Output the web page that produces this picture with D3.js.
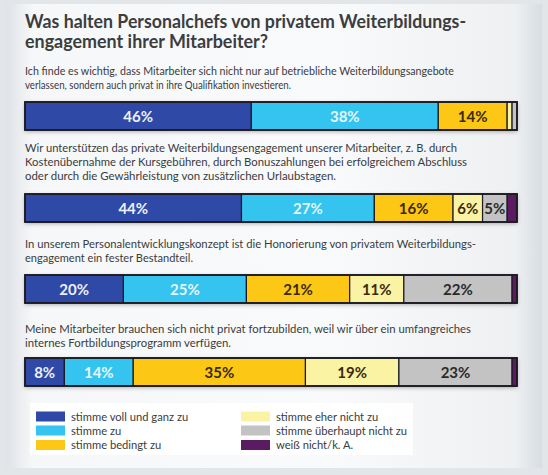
<!DOCTYPE html>
<html><head><meta charset="utf-8">
<script src="https://cdn.jsdelivr.net/npm/d3@7"></script>
<style>
html,body{margin:0;padding:0;background:#e8ebee;}
svg{display:block;}
</style></head>
<body><svg id="chart" width="548" height="475"></svg>
<script>
// ---- data ----
const categories = ["stimme voll und ganz zu","stimme zu","stimme bedingt zu","stimme eher nicht zu","stimme überhaupt nicht zu","weiß nicht/k. A."];
const colors = ["#2f4aa6","#35c4f0","#fcc815","#fbf3a4","#c3c3c3","#5b1b60"];
const labelColors = ["#eef1fb","#e6f7fd","#3a2a0c","#3a2a0c","#2a2a2a","#ffffff"];
const titleLines = ["Was halten Personalchefs von privatem Weiterbildungs-","engagement ihrer Mitarbeiter?"];
const statements = [
  ["Ich finde es wichtig, dass Mitarbeiter sich nicht nur auf betriebliche Weiterbildungsangebote","verlassen, sondern auch privat in ihre Qualifikation investieren."],
  ["Wir unterstützen das private Weiterbildungsengagement unserer Mitarbeiter, z. B. durch","Kostenübernahme der Kursgebühren, durch Bonuszahlungen bei erfolgreichem Abschluss","oder durch die Gewährleistung von zusätzlichen Urlaubstagen."],
  ["In unserem Personalentwicklungskonzept ist die Honorierung von privatem Weiterbildungs-","engagement ein fester Bestandteil."],
  ["Meine Mitarbeiter brauchen sich nicht privat fortzubilden, weil wir über ein umfangreiches","internes Fortbildungsprogramm verfügen."]
];
const values1 = [46,38,14,1,1];
const values2 = [44,27,16,6,5,2];
const values3 = [20,25,21,11,22,1];
const values4 = [8,14,35,19,23,1];
const seriesValues = [values1, values2, values3, values4];

// ---- layout ----
const svg = d3.select("#chart");
const defs = svg.append("defs");
const g1 = defs.append("linearGradient").attr("id","bg").attr("x1",0).attr("x2",1).attr("y1",0).attr("y2",0);
g1.append("stop").attr("offset","0%").attr("stop-color","#dfe3e7");
g1.append("stop").attr("offset","5%").attr("stop-color","#f6f7f8");
g1.append("stop").attr("offset","60%").attr("stop-color","#f9fafb");
g1.append("stop").attr("offset","95%").attr("stop-color","#eef0f2");
g1.append("stop").attr("offset","100%").attr("stop-color","#d8dde2");
const sh = defs.append("filter").attr("id","shadow").attr("x","-5%").attr("y","-30%").attr("width","110%").attr("height","170%");
sh.append("feDropShadow").attr("dx",0).attr("dy",1.5).attr("stdDeviation",2).attr("flood-color","#000").attr("flood-opacity",0.35);

svg.append("rect").attr("x",0).attr("y",0).attr("width",548).attr("height",475).attr("fill","#e3e6e9");
svg.append("rect").attr("x",6).attr("y",4).attr("width",536).attr("height",464).attr("fill","url(#bg)");

const x = d3.scaleLinear().domain([0,100]).range([25,517]);
const barTops = [102,194,275,358];
const barH = 28;
const textLeft = 25;

// title
const titleBase = [28,48];
const titleW = [441,243];
svg.selectAll("text.title").data(titleLines).join("text")
  .attr("class","title")
  .attr("x",textLeft).attr("y",(d,i)=>titleBase[i])
  .attr("font-family","Lato, 'Open Sans', sans-serif").attr("font-weight","bold")
  .attr("font-size",18.5).attr("fill","#3b3d3f")
  .attr("textLength",(d,i)=>titleW[i]).attr("lengthAdjust","spacingAndGlyphs")
  .text(d=>d);

// statements
const stmtBase = [[75,89],[152,166,180],[248,262],[333,347]];
const stmtW = [[429,266],[432,442,311],[451,168],[446,206]];
statements.forEach((lines,si)=>{
  svg.append("g").selectAll("text").data(lines).join("text")
    .attr("x",textLeft).attr("y",(d,i)=>stmtBase[si][i])
    .attr("font-family","Lato, 'Open Sans', sans-serif")
    .attr("font-size",11.2).attr("fill","#3a3c3e")
    .attr("textLength",(d,i)=>stmtW[si][i]).attr("lengthAdjust","spacingAndGlyphs")
    .text(d=>d);
});

// bars
seriesValues.forEach((vals,bi)=>{
  let acc = 0;
  const segs = vals.map((v,i)=>{const s={v,i,x0:acc,x1:acc+v}; acc+=v; return s;});
  const g = svg.append("g");
  g.append("rect").attr("x",x(0)).attr("y",barTops[bi]).attr("width",x(100)-x(0)).attr("height",barH)
    .attr("fill","#222").attr("filter","url(#shadow)");
  g.selectAll("rect.seg").data(segs).join("rect").attr("class","seg")
    .attr("x",d=>x(d.x0)).attr("y",barTops[bi]).attr("width",d=>x(d.x1)-x(d.x0)).attr("height",barH)
    .attr("fill",d=>colors[d.i]).attr("stroke","#1d1a22").attr("stroke-width",1.2);
  g.append("rect").attr("x",x(0)).attr("y",barTops[bi]).attr("width",x(100)-x(0)).attr("height",barH)
    .attr("fill","none").attr("stroke","#1d1a22").attr("stroke-width",1.8);
  g.selectAll("text").data(segs.filter(d=>d.v>=5)).join("text")
    .attr("x",d=>(x(d.x0)+x(d.x1))/2).attr("y",barTops[bi]+barH/2+5.5)
    .attr("text-anchor","middle")
    .attr("font-family","Lato, 'Open Sans', sans-serif").attr("font-weight","bold")
    .attr("font-size",15).attr("fill",d=>labelColors[d.i])
    .text(d=>d.v+"%");
});

// legend
svg.append("rect").attr("x",30).attr("y",403).attr("width",383).attr("height",52).attr("fill","#ffffff").attr("opacity",0.9);
const legRowY = [416.5,430.5,445];
const leg = svg.append("g").selectAll("g").data(categories).join("g")
  .attr("transform",(d,i)=>`translate(${i<3?36:241},${legRowY[i%3]})`);
leg.append("rect").attr("x",0).attr("y",-5).attr("width",29).attr("height",10).attr("fill",(d,i)=>colors[i]);
leg.append("text").attr("x",35).attr("y",4)
  .attr("font-family","Lato, 'Open Sans', sans-serif").attr("font-size",11.2).attr("fill","#3a3c3e")
  .text(d=>d);
</script>
</body></html>
